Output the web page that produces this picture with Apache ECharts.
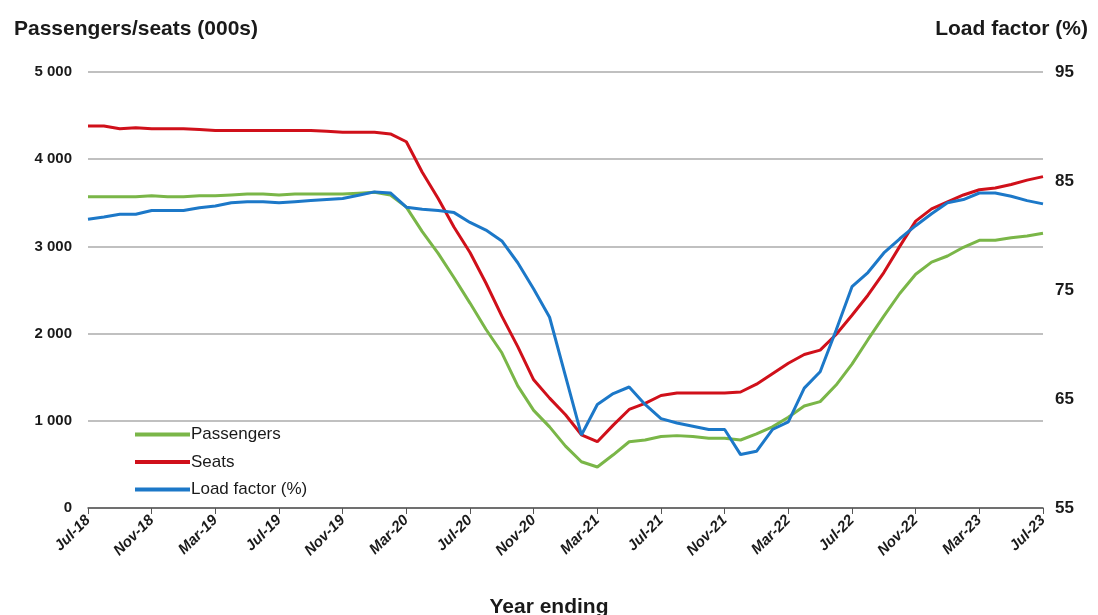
<!DOCTYPE html>
<html><head><meta charset="utf-8">
<script src="https://cdn.jsdelivr.net/npm/echarts@6/dist/echarts.min.js"></script>
<style>html,body{margin:0;padding:0;background:#fff}#c{width:1098px;height:615px}</style>
</head><body><div id="c"></div>
<script>
const months = [
 'Jul-18','Aug-18','Sep-18','Oct-18','Nov-18','Dec-18','Jan-19','Feb-19','Mar-19','Apr-19','May-19','Jun-19',
 'Jul-19','Aug-19','Sep-19','Oct-19','Nov-19','Dec-19','Jan-20','Feb-20','Mar-20','Apr-20','May-20','Jun-20',
 'Jul-20','Aug-20','Sep-20','Oct-20','Nov-20','Dec-20','Jan-21','Feb-21','Mar-21','Apr-21','May-21','Jun-21',
 'Jul-21','Aug-21','Sep-21','Oct-21','Nov-21','Dec-21','Jan-22','Feb-22','Mar-22','Apr-22','May-22','Jun-22',
 'Jul-22','Aug-22','Sep-22','Oct-22','Nov-22','Dec-22','Jan-23','Feb-23','Mar-23','Apr-23','May-23','Jun-23','Jul-23'];
const passengers = [
 3570,3570,3570,3570,3580,3570,3570,3580,3580,3590,3600,3600,
 3590,3600,3600,3600,3600,3610,3620,3590,3450,3170,2920,2640,
 2350,2050,1780,1400,1120,930,710,530,470,610,760,780,
 820,830,820,800,800,780,850,930,1040,1170,1220,1410,
 1650,1930,2200,2460,2680,2820,2890,2990,3070,3070,3100,3120,3150];
const seats = [
 4380,4380,4350,4360,4350,4350,4350,4340,4330,4330,4330,4330,
 4330,4330,4330,4320,4310,4310,4310,4290,4200,3850,3550,3220,
 2930,2580,2200,1850,1470,1260,1070,840,760,950,1130,1200,
 1290,1320,1320,1320,1320,1330,1420,1540,1660,1760,1810,1990,
 2210,2440,2700,3000,3290,3430,3510,3590,3650,3670,3710,3760,3800];
const loadFactor = [
 81.5,81.7,81.95,81.95,82.3,82.3,82.3,82.55,82.7,83.0,83.1,83.1,
 83.0,83.1,83.2,83.3,83.4,83.7,84.0,83.9,82.6,82.4,82.3,82.1,
 81.2,80.5,79.5,77.5,75.1,72.5,67.1,61.7,64.5,65.5,66.1,64.5,
 63.2,62.8,62.5,62.2,62.2,59.9,60.2,62.2,62.9,66.0,67.5,71.3,
 75.3,76.6,78.4,79.7,80.9,82.0,83.0,83.3,83.9,83.9,83.6,83.2,82.9];
const leftTicks = {min:0, max:5000, step:1000};
const rightTicks = {min:55, max:95, step:10};

const FONT = '"Liberation Sans", Arial, sans-serif';
const TXT = '#1a1a1a';
const chart = echarts.init(document.getElementById('c'));
chart.setOption({
  animation:false,
  textStyle:{fontFamily:FONT},
  grid:{left:88,right:55,top:72,bottom:107,containLabel:false},
  title:[
    {text:'Passengers/seats (000s)',left:9,top:14,textStyle:{fontFamily:FONT,fontSize:21,fontWeight:'bold',color:TXT}},
    {text:'Load factor (%)',right:5,top:14,textStyle:{fontFamily:FONT,fontSize:21,fontWeight:'bold',color:TXT}},
    {text:'Year ending',left:'center',top:592,textStyle:{fontFamily:FONT,fontSize:21,fontWeight:'bold',color:TXT}}
  ],
  legend:{
    orient:'vertical',left:130,top:421,itemWidth:55,itemHeight:4,itemGap:10.5,
    icon:'rect',
    textStyle:{fontFamily:FONT,fontSize:17,color:TXT,padding:[0,0,0,-4]},
    data:['Passengers','Seats','Load factor (%)']
  },
  xAxis:{
    type:'category',boundaryGap:false,data:months,
    axisLine:{lineStyle:{color:'#555',width:1.5}},
    axisTick:{show:true,interval:3,length:6,lineStyle:{color:'#555'}},
    axisLabel:{interval:3,rotate:45,fontFamily:FONT,fontSize:15,fontWeight:'bold',fontStyle:'italic',color:TXT,margin:10},
    splitLine:{show:false}
  },
  yAxis:[
    {type:'value',min:leftTicks.min,max:leftTicks.max,interval:leftTicks.step,
     axisLine:{show:false},axisTick:{show:false},
     axisLabel:{fontFamily:FONT,fontSize:15,fontWeight:'bold',color:TXT,margin:16,
       formatter:v=>v>=1000?String(Math.floor(v/1000))+' '+String(v%1000).padStart(3,'0'):String(v)},
     splitLine:{lineStyle:{color:'#c0c0c0',width:2}}},
    {type:'value',min:rightTicks.min,max:rightTicks.max,interval:rightTicks.step,position:'right',
     axisLine:{show:false},axisTick:{show:false},
     axisLabel:{fontFamily:FONT,fontSize:17,fontWeight:'bold',color:TXT,margin:12},
     splitLine:{show:false}}
  ],
  series:[
    {name:'Passengers',type:'line',data:passengers,yAxisIndex:0,showSymbol:false,symbol:'none',
     lineStyle:{color:'#7ab648',width:3},itemStyle:{color:'#7ab648'},z:2},
    {name:'Seats',type:'line',data:seats,yAxisIndex:0,showSymbol:false,symbol:'none',
     lineStyle:{color:'#d0101a',width:3},itemStyle:{color:'#d0101a'},z:3},
    {name:'Load factor (%)',type:'line',data:loadFactor,yAxisIndex:1,showSymbol:false,symbol:'none',
     lineStyle:{color:'#1c78c8',width:3},itemStyle:{color:'#1c78c8'},z:4}
  ]
});
</script></body></html>
